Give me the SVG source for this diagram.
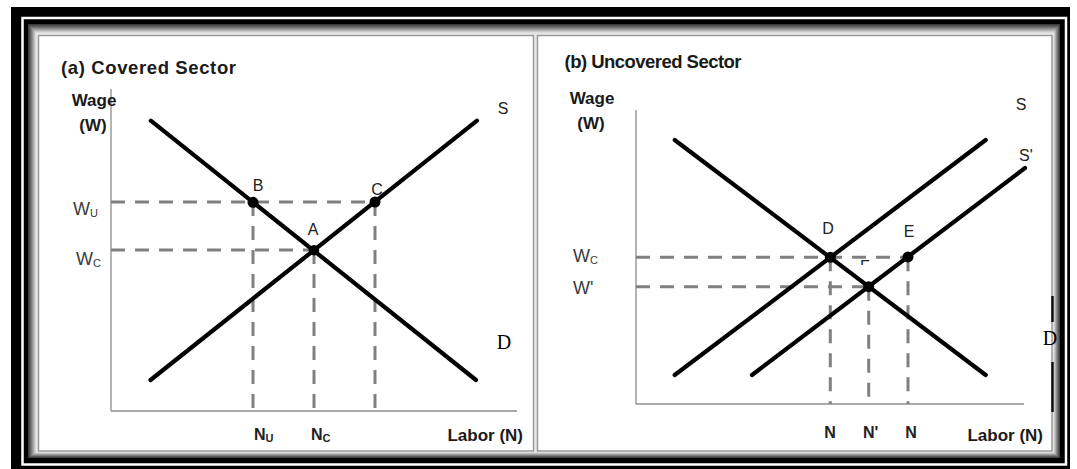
<svg xmlns="http://www.w3.org/2000/svg" width="1077" height="469" viewBox="0 0 1077 469">
<style>
.curve{stroke:#000;stroke-width:4.2;stroke-linecap:round;fill:none}
.guide{stroke:#808080;stroke-width:3;stroke-dasharray:14 10;fill:none}
.axis{stroke:#8c8c8c;stroke-width:1.3;fill:none}
.dot{fill:#000}
.title{font-family:"Liberation Sans",Arial,sans-serif;font-size:18.5px;font-weight:bold;fill:#1a1a1a}
.axlab{font-family:"Liberation Sans",Arial,sans-serif;font-size:17px;font-weight:bold;fill:#1a1a1a}
.pt{font-family:"Liberation Sans",Arial,sans-serif;font-size:16px;fill:#222}
.wl{font-family:"Liberation Sans",Arial,sans-serif;font-size:18px;fill:#3a3a3a}
.nl{font-family:"Liberation Sans",Arial,sans-serif;font-size:16px;font-weight:bold;fill:#222}
.sub{font-size:11px}
.dl{font-family:"Liberation Serif","Times New Roman",serif;font-size:20px;fill:#000}
.panel{fill:#fff;stroke:#9a9a9a;stroke-width:1.5}
</style>
<defs>
<clipPath id="fclip"><rect x="855" y="255" width="20" height="10"/></clipPath>
</defs>
<g id="frame">
<rect x="11" y="7" width="1059" height="462" fill="#000"/>
<rect x="22.5" y="18" width="1043.5" height="446.5" fill="none" stroke="#fff" stroke-width="2.5"/>
<rect x="28" y="24" width="1032" height="434" fill="#3a3a3a"/>
<rect x="29" y="25.1" width="1030.2" height="432.2" fill="#505050"/>
<rect x="30" y="26.2" width="1028.4" height="430.4" fill="#666"/>
<rect x="31" y="27.3" width="1026.6" height="428.6" fill="#7c7c7c"/>
<rect x="32" y="28.4" width="1024.8" height="426.8" fill="#939393"/>
<rect x="33" y="29.5" width="1023" height="425" fill="#aaa"/>
<rect x="34" y="30.6" width="1021.2" height="423.2" fill="#c2c2c2"/>
<rect x="35" y="31.7" width="1019.4" height="421.4" fill="#d8d8d8"/>
<rect x="36" y="32.8" width="1017.6" height="419.6" fill="#e8e8e8"/>
<rect x="38.5" y="35.5" width="495" height="415.5" class="panel"/>
<rect x="537.5" y="35.5" width="514.5" height="415.5" class="panel"/>
</g>
<g id="panel-a">
<text class="title" x="61" y="74" textLength="175" lengthAdjust="spacing">(a) Covered Sector</text>
<g id="axes-a">
<line class="axis" x1="111" y1="89" x2="111" y2="411"/>
<line class="axis" x1="111" y1="411" x2="517" y2="411"/>
<text class="axlab" x="94" y="106" text-anchor="middle">Wage</text>
<text class="axlab" x="93" y="131" text-anchor="middle">(W)</text>
<text class="axlab" x="523" y="441" text-anchor="end">Labor (N)</text>
</g>
<g id="connectors-a">
<line class="guide" x1="111" y1="202" x2="375" y2="202"/>
<line class="guide" x1="111" y1="250" x2="314" y2="250"/>
<line class="guide" x1="253" y1="202" x2="253" y2="411"/>
<line class="guide" x1="314" y1="250" x2="314" y2="411"/>
<line class="guide" x1="375" y1="202" x2="375" y2="411"/>
<line class="curve" x1="150.8" y1="120.7" x2="476" y2="380"/>
<line class="curve" x1="150.5" y1="380" x2="477" y2="120.7"/>
</g>
<g id="point-A"><circle class="dot" cx="314" cy="250.3" r="5.2"/><text class="pt" x="313" y="235" text-anchor="middle">A</text></g>
<g id="point-B"><circle class="dot" cx="253" cy="202.3" r="5.5"/><text class="pt" x="258" y="191" text-anchor="middle">B</text></g>
<g id="point-C"><circle class="dot" cx="375" cy="202" r="5.5"/><text class="pt" x="377" y="195" text-anchor="middle">C</text></g>
<text class="pt" x="503" y="114" text-anchor="middle" font-size="17">S</text>
<text class="dl" x="504" y="349" text-anchor="middle">D</text>
<text class="wl" x="73" y="215">W<tspan class="sub" dy="2">U</tspan></text>
<text class="wl" x="76" y="265">W<tspan class="sub" dy="2">C</tspan></text>
<text class="nl" x="254" y="440">N<tspan class="sub" dy="2">U</tspan></text>
<text class="nl" x="311" y="440">N<tspan class="sub" dy="2">C</tspan></text>
</g>
<g id="panel-b">
<text class="title" x="564.5" y="68" textLength="177" lengthAdjust="spacing">(b) Uncovered Sector</text>
<g id="axes-b">
<line class="axis" x1="636" y1="110" x2="636" y2="404"/>
<line class="axis" x1="636" y1="404" x2="1024" y2="404"/>
<text class="axlab" x="592" y="104" text-anchor="middle">Wage</text>
<text class="axlab" x="591" y="129" text-anchor="middle">(W)</text>
<text class="axlab" x="1043" y="441" text-anchor="end">Labor (N)</text>
</g>
<g id="connectors-b">
<line class="guide" x1="636" y1="257.3" x2="908" y2="257.3"/>
<line class="guide" x1="636" y1="286.7" x2="869" y2="286.7"/>
<line class="guide" x1="830.3" y1="257.3" x2="830.3" y2="404"/>
<line class="guide" x1="868.7" y1="286.7" x2="868.7" y2="404"/>
<line class="guide" x1="908" y1="257.3" x2="908" y2="404"/>
<line class="curve" x1="674.7" y1="140" x2="985.7" y2="375"/>
<line class="curve" x1="674.7" y1="375" x2="985.7" y2="140"/>
<line class="curve" x1="752" y1="375" x2="1025" y2="168"/>
</g>
<g id="point-D"><circle class="dot" cx="830.3" cy="257.3" r="5.5"/><text class="pt" x="828" y="234" text-anchor="middle">D</text></g>
<g id="point-E"><circle class="dot" cx="908" cy="256.9" r="5.5"/><text class="pt" x="909" y="237" text-anchor="middle">E</text></g>
<g id="point-F"><circle class="dot" cx="868.7" cy="286.7" r="5.5"/><text class="pt" x="865" y="272" text-anchor="middle" clip-path="url(#fclip)">F</text></g>
<text class="pt" x="1021" y="110" text-anchor="middle" font-size="17">S</text>
<text class="pt" x="1019" y="161" font-size="17">S'</text>
<line x1="1052.5" y1="296" x2="1052.5" y2="322" stroke="#111" stroke-width="2.5"/>
<line x1="1052.5" y1="362" x2="1052.5" y2="412" stroke="#111" stroke-width="2.5"/>
<text class="dl" x="1050" y="345" text-anchor="middle">D</text>
<text class="wl" x="573" y="262">W<tspan class="sub" dy="2">C</tspan></text>
<text class="wl" x="573" y="294">W'</text>
<text class="nl" x="830" y="438" text-anchor="middle">N</text>
<text class="nl" x="863" y="438">N'</text>
<text class="nl" x="911" y="438" text-anchor="middle">N</text>
</g>
</svg>
